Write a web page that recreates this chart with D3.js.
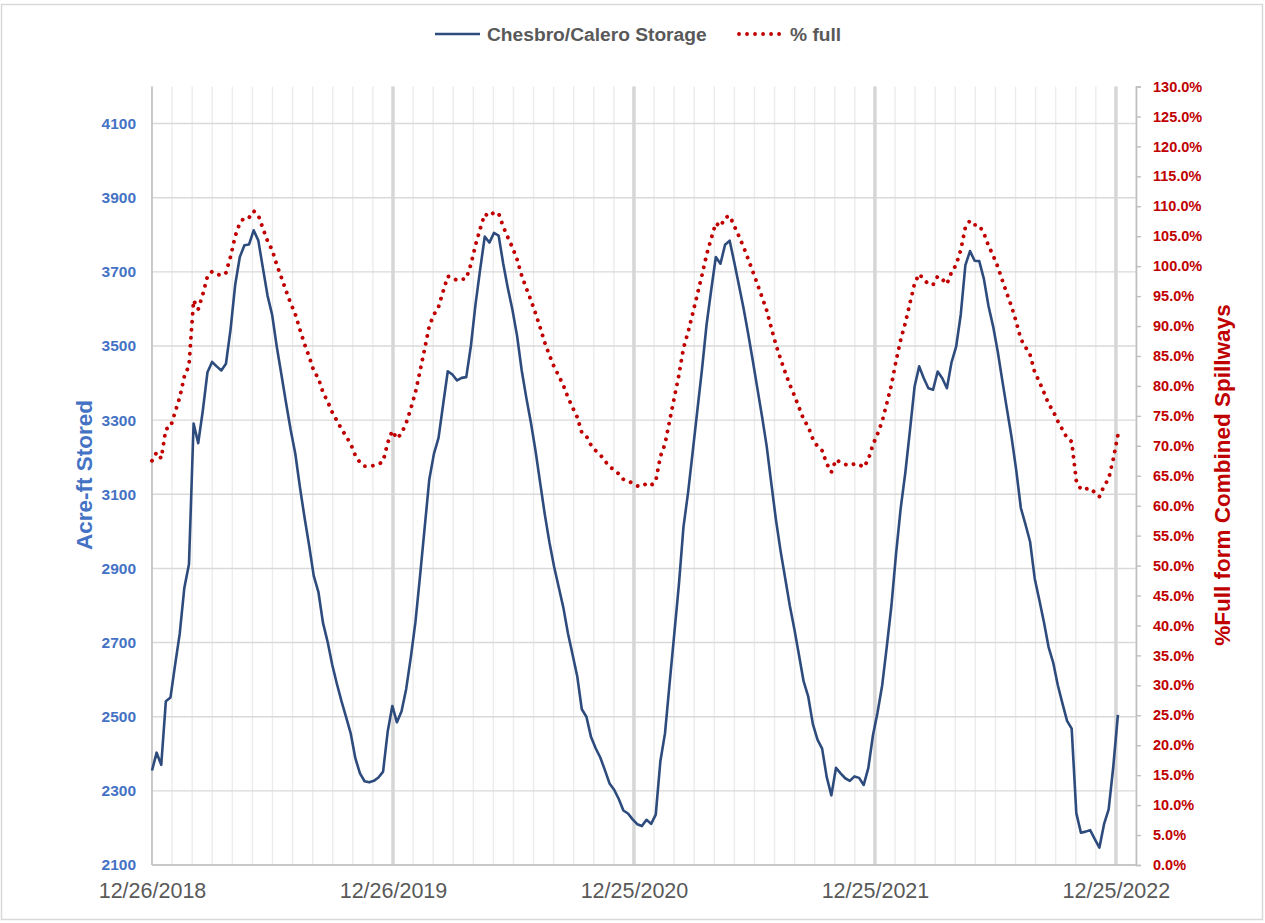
<!DOCTYPE html>
<html><head><meta charset="utf-8">
<script src="https://cdn.jsdelivr.net/npm/d3@7"></script>
<style>body{margin:0;background:#fff;} svg{display:block;font-family:"Liberation Sans",Arial,sans-serif;}</style>
</head><body><svg id="chart" width="1265" height="923"></svg>
<script>
// ---- data (weekly readings starting 12/26/2018) ----
const startDate = "12/26/2018";
const storage = [
2355,2403,2370,2542,2552,2640,2724,2848,2911,3291,
3238,3326,3429,3457,3445,3434,3452,3545,3665,3740,
3772,3774,3812,3785,3710,3636,3584,3498,3423,3347,
3274,3210,3120,3038,2962,2880,2837,2753,2702,2640,
2589,2542,2499,2455,2388,2347,2326,2323,2327,2336,
2352,2460,2529,2485,2515,2575,2660,2755,2880,3010,
3140,3209,3252,3343,3432,3423,3407,3414,3416,3500,
3612,3706,3795,3779,3805,3798,3722,3656,3597,3527,
3434,3360,3292,3216,3130,3045,2970,2905,2850,2795,
2725,2668,2610,2520,2500,2445,2415,2390,2356,2320,
2303,2278,2247,2239,2223,2210,2205,2222,2211,2236,
2380,2455,2590,2722,2855,3012,3105,3215,3326,3436,
3558,3651,3740,3722,3773,3784,3725,3664,3602,3533,
3460,3385,3310,3230,3130,3032,2948,2874,2800,2736,
2666,2595,2554,2480,2438,2414,2337,2288,2362,2347,
2334,2327,2339,2335,2316,2362,2450,2512,2585,2690,
2800,2940,3062,3158,3272,3390,3445,3413,3386,3382,
3431,3413,3386,3456,3498,3585,3718,3756,3730,3729,
3681,3608,3553,3485,3406,3329,3253,3165,3063,3019,
2972,2873,2815,2755,2688,2646,2585,2536,2489,2468,
2240,2187,2190,2194,2170,2147,2210,2250,2365,2505
];
const percentFull = [
67.5,68.9,67.9,72.8,73.1,75.6,78.1,81.6,83.4,94.3,
92.8,95.3,98.3,99.1,98.7,98.4,98.9,101.6,105.0,107.2,
108.1,108.1,109.2,108.5,106.3,104.2,102.7,100.2,98.1,95.9,
93.8,92.0,89.4,87.0,84.9,82.5,81.3,78.9,77.4,75.6,
74.2,72.8,71.6,70.3,68.4,67.2,66.6,66.6,66.7,66.9,
67.4,70.5,72.5,71.2,72.1,73.8,76.2,78.9,82.5,86.2,
90.0,91.9,93.2,95.8,98.3,98.1,97.6,97.8,97.9,100.3,
103.5,106.2,108.7,108.3,109.0,108.8,106.6,104.8,103.1,101.1,
98.4,96.3,94.3,92.1,89.7,87.2,85.1,83.2,81.7,80.1,
78.1,76.4,74.8,72.2,71.6,70.1,69.2,68.5,67.5,66.5,
66.0,65.3,64.4,64.2,63.7,63.3,63.2,63.7,63.4,64.1,
68.2,70.3,74.2,78.0,81.8,86.3,89.0,92.1,95.3,98.5,
101.9,104.6,107.2,106.6,108.1,108.4,106.7,105.0,103.2,101.2,
99.1,97.0,94.8,92.6,89.7,86.9,84.5,82.3,80.2,78.4,
76.4,74.4,73.2,71.1,69.9,69.2,67.0,65.6,67.7,67.2,
66.9,66.7,67.0,66.9,66.4,67.7,70.2,72.0,74.1,77.1,
80.2,84.2,87.7,90.5,93.8,97.1,98.7,97.8,97.0,96.9,
98.3,97.8,97.0,99.0,100.2,102.7,106.5,107.6,106.9,106.8,
105.5,103.4,101.8,99.9,97.6,95.4,93.2,90.7,87.8,86.5,
85.2,82.3,80.7,78.9,77.0,75.8,74.1,72.7,71.3,70.7,
64.2,62.7,62.8,62.9,62.2,61.5,63.3,64.5,67.8,71.8
];
const seriesNames = ["Chesbro/Calero Storage", "% full"];
const xTickLabels = ["12/26/2018","12/26/2019","12/25/2020","12/25/2021","12/25/2022"];
const leftTicks = [2100,2300,2500,2700,2900,3100,3300,3500,3700,3900,4100];
const rightTicks = [0,5,10,15,20,25,30,35,40,45,50,55,60,65,70,75,80,85,90,95,100,105,110,115,120,125,130];
const leftTitle = "Acre-ft Stored";
const rightTitle = "%Full form Combined Spillways";

// ---- drawing ----
const parse = d3.timeParse("%m/%d/%Y");
const DAY = 864e5;
const t0 = parse(startDate);
const dates = storage.map((_, i) => new Date(+t0 + 7 * i * DAY));
const majorDates = xTickLabels.map(parse);
const lastMajor = majorDates[majorDates.length - 1];
const monthStep = 365 / 12;

const L = 152, R = 1136, T = 86.5, B = 865;
const svg = d3.select("#chart");

svg.append("rect").attr("x", 1.5).attr("y", 4.5).attr("width", 1261).attr("height", 915)
  .attr("fill", "#fff").attr("stroke", "#d9d9d9").attr("stroke-width", 1.5);

const x = d3.scaleTime().domain([t0, new Date(+lastMajor + monthStep * DAY)]).range([L, R]);
const yL = d3.scaleLinear().domain([2100, 4200]).range([B, T]);
const yR = d3.scaleLinear().domain([0, 130]).range([B, T]);

// minor vertical gridlines
const nMinor = Math.round((+x.domain()[1] - +t0) / DAY / monthStep);
const minorDates = d3.range(0, nMinor + 1).map(i => new Date(+t0 + i * monthStep * DAY));
svg.append("g").selectAll("line").data(minorDates).join("line")
  .attr("x1", d => x(d)).attr("x2", d => x(d)).attr("y1", T).attr("y2", B)
  .attr("stroke", "#ececec").attr("stroke-width", 1.4);

// horizontal gridlines
svg.append("g").selectAll("line").data(leftTicks).join("line")
  .attr("x1", L).attr("x2", R).attr("y1", d => yL(d)).attr("y2", d => yL(d))
  .attr("stroke", "#d9d9d9").attr("stroke-width", 1.4);

// major vertical gridlines
svg.append("g").selectAll("line").data(majorDates.slice(1)).join("line")
  .attr("x1", d => x(d)).attr("x2", d => x(d)).attr("y1", T).attr("y2", B)
  .attr("stroke", "#d6d6d6").attr("stroke-width", 3.5);

// axis lines
svg.append("line").attr("x1", L).attr("x2", L).attr("y1", T).attr("y2", B).attr("stroke", "#bfbfbf").attr("stroke-width", 1.6);
svg.append("line").attr("x1", L).attr("x2", R).attr("y1", B).attr("y2", B).attr("stroke", "#bfbfbf").attr("stroke-width", 1.6);

// right axis with outward ticks
const rAxis = svg.append("g").attr("transform", `translate(${R},0)`)
  .call(d3.axisRight(yR).tickValues(rightTicks).tickSize(5).tickFormat(d => d.toFixed(1) + "%").tickPadding(12));
rAxis.select(".domain").attr("stroke", "#bfbfbf").attr("stroke-width", 1.6);
rAxis.selectAll(".tick line").attr("stroke", "#bfbfbf").attr("stroke-width", 1.4);
rAxis.selectAll(".tick text").attr("fill", "#c00000").attr("font-size", 14.5).attr("font-weight", "bold")
  .attr("font-family", "Liberation Sans, Arial, sans-serif");

// left axis labels
const lAxis = svg.append("g").attr("transform", `translate(${L},0)`)
  .call(d3.axisLeft(yL).tickValues(leftTicks).tickSize(0).tickPadding(16).tickFormat(d3.format("d")));
lAxis.select(".domain").remove();
lAxis.selectAll(".tick text").attr("fill", "#4472c4").attr("font-size", 15.5).attr("font-weight", "bold")
  .attr("font-family", "Liberation Sans, Arial, sans-serif");

// x labels
const xAxis = svg.append("g").attr("transform", `translate(0,${B})`)
  .call(d3.axisBottom(x).tickValues(majorDates).tickSize(0).tickPadding(18).tickFormat((d, i) => xTickLabels[i]));
xAxis.select(".domain").remove();
xAxis.selectAll(".tick text").attr("fill", "#595959").attr("font-size", 21.5)
  .attr("font-family", "Liberation Sans, Arial, sans-serif");

// axis titles
svg.append("text").attr("transform", `translate(92,475) rotate(-90)`).attr("text-anchor", "middle")
  .attr("fill", "#4472c4").attr("font-size", 22.5).attr("font-weight", "bold").text(leftTitle);
svg.append("text").attr("transform", `translate(1230,475) rotate(-90)`).attr("text-anchor", "middle")
  .attr("fill", "#c00000").attr("font-size", 22.5).attr("font-weight", "bold").text(rightTitle);

// series
const lineS = d3.line().x((d, i) => x(dates[i])).y(d => yL(d));
const lineP = d3.line().x((d, i) => x(dates[i])).y(d => yR(d));
svg.append("path").datum(storage).attr("d", lineS).attr("fill", "none")
  .attr("stroke", "#2e4b7d").attr("stroke-width", 2.6).attr("stroke-linejoin", "round");
svg.append("path").datum(percentFull).attr("d", lineP).attr("fill", "none")
  .attr("stroke", "#c00000").attr("stroke-width", 3.9).attr("stroke-linecap", "round")
  .attr("stroke-dasharray", "0.01 8");

// legend
const lg = svg.append("g");
lg.append("line").attr("x1", 435).attr("x2", 480).attr("y1", 34).attr("y2", 34)
  .attr("stroke", "#2e4b7d").attr("stroke-width", 2.6);
lg.append("text").attr("x", 487).attr("y", 41).attr("fill", "#595959").attr("font-size", 19.2)
  .attr("font-weight", "bold").text(seriesNames[0]);
lg.append("line").attr("x1", 739).attr("x2", 782).attr("y1", 34).attr("y2", 34)
  .attr("stroke", "#c00000").attr("stroke-width", 3.9).attr("stroke-linecap", "round").attr("stroke-dasharray", "0.01 8");
lg.append("text").attr("x", 790).attr("y", 41).attr("fill", "#595959").attr("font-size", 19.2)
  .attr("font-weight", "bold").text(seriesNames[1]);
</script></body></html>
